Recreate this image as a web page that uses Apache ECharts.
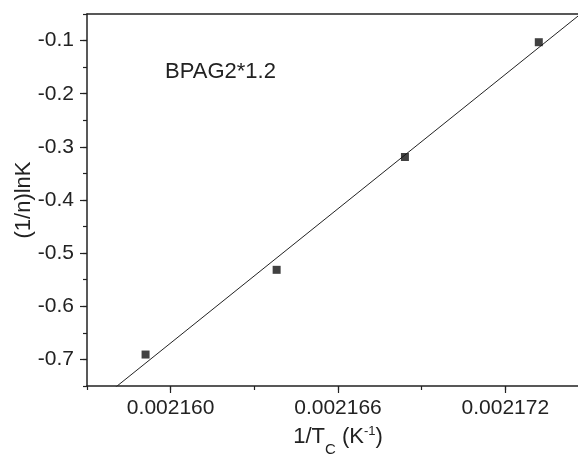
<!DOCTYPE html>
<html><head><meta charset="utf-8">
<script src="https://cdn.jsdelivr.net/npm/echarts@6/dist/echarts.min.js"></script>
<style>html,body{margin:0;padding:0;background:#fff}#c{width:578px;height:457px}</style>
</head><body><div id="c"></div>
<script>
// ---- data ----
const xValues = [0.0021591, 0.0021638, 0.0021684, 0.0021732];
const yValues = [-0.6908, -0.5314, -0.3191, -0.1031];
const xTickLabels = ['0.002160', '0.002166', '0.002172'];
const yTickLabels = ['-0.7', '-0.6', '-0.5', '-0.4', '-0.3', '-0.2', '-0.1'];
const seriesLabel = 'BPAG2*1.2';
const xAxisTitle = '1/T{sub|C} (K{sup|-1})';
const yAxisTitle = '(1/n)lnK';

// ---- axis ranges ----
const xMin = 0.002157, xMax = 0.002175, xMinorStep = 0.000003;
const xMajorMin = 0.002160, xMajorStep = 0.000006;
const yMin = -0.75, yMax = -0.05, yMinorStep = 0.05;
const yMajorMin = -0.7, yMajorMax = -0.1, yMajorStep = 0.1;

// ---- linear fit from the data ----
const n = xValues.length;
const mx = xValues.reduce((a, b) => a + b, 0) / n;
const my = yValues.reduce((a, b) => a + b, 0) / n;
let sxy = 0, sxx = 0;
for (let i = 0; i < n; i++) { sxy += (xValues[i] - mx) * (yValues[i] - my); sxx += (xValues[i] - mx) ** 2; }
const slope = sxy / sxx, icpt = my - slope * mx;
const fitLine = [[xMin, icpt + slope * xMin], [xMax, icpt + slope * xMax]];
const points = xValues.map((x, i) => [x, yValues[i]]);

// ---- layout ----
const W = 578, H = 457;
const gL = 87, gT = 14, plotW = 502, plotH = 372;
const xPix = v => gL + (v - xMin) / (xMax - xMin) * plotW;
const yPix = v => gT + (yMax - v) / (yMax - yMin) * plotH;

const ink = '#222';
const font = 'Liberation Sans, Arial, Helvetica, sans-serif';

const chart = echarts.init(document.getElementById('c'), null, { renderer: 'canvas' });
chart.setOption({
  animation: false,
  backgroundColor: '#fff',
  title: {
    text: seriesLabel, left: 160, top: 56,
    textStyle: { fontSize: 22, fontWeight: 'normal', color: ink, fontFamily: font }
  },
  grid: [
    { left: gL, top: gT, width: plotW, height: plotH, outerBoundsMode: 'none', containLabel: false },
    { left: xPix(xMajorMin), top: gT, width: xPix(xMax) - xPix(xMajorMin), height: plotH,
      outerBoundsMode: 'none', containLabel: false },
    { left: gL, top: yPix(yMajorMax), width: plotW, height: yPix(yMajorMin) - yPix(yMajorMax),
      outerBoundsMode: 'none', containLabel: false }
  ],
  xAxis: [
    {
      gridIndex: 0, type: 'value', min: xMin, max: xMax, interval: xMinorStep,
      axisLine: { lineStyle: { color: ink, width: 1.5 } },
      axisTick: { length: 4, lineStyle: { color: ink, width: 1.2 } },
      axisLabel: { show: false }, splitLine: { show: false },
      name: xAxisTitle, nameLocation: 'middle', nameGap: 39,
      nameTextStyle: {
        fontSize: 22, color: ink, fontFamily: font, lineHeight: 24,
        rich: {
          sub: { fontSize: 15, color: ink, fontFamily: font, lineHeight: 15, padding: [17, 0, 0, 0], verticalAlign: 'top' },
          sup: { fontSize: 13, color: ink, fontFamily: font, lineHeight: 13, padding: [0, 0, 10, 0], verticalAlign: 'top' }
        }
      }
    },
    {
      gridIndex: 1, type: 'value', min: xMajorMin, max: xMax, interval: xMajorStep,
      axisLine: { show: false },
      axisTick: { length: 7, lineStyle: { color: ink, width: 1.2 } },
      axisLabel: {
        margin: 12, fontSize: 21, color: ink, fontFamily: font,
        formatter: (v, i) => (i < xTickLabels.length ? xTickLabels[i] : '')
      },
      splitLine: { show: false }
    },
    { gridIndex: 2, type: 'value', min: xMin, max: xMax, show: false },
    {
      gridIndex: 0, type: 'value', position: 'top', min: xMin, max: xMax,
      axisLine: { show: true, lineStyle: { color: ink, width: 1.5 } },
      axisTick: { show: false }, axisLabel: { show: false }, splitLine: { show: false }
    }
  ],
  yAxis: [
    {
      gridIndex: 0, type: 'value', min: yMin, max: yMax, interval: yMinorStep,
      axisLine: { lineStyle: { color: ink, width: 1.5 } },
      axisTick: { length: 4, lineStyle: { color: ink, width: 1.2 } },
      axisLabel: { show: false }, splitLine: { show: false },
      name: yAxisTitle, nameLocation: 'middle', nameRotate: 90, nameGap: 52,
      nameTextStyle: { fontSize: 22, color: ink, fontFamily: font }
    },
    { gridIndex: 1, type: 'value', min: yMin, max: yMax, show: false },
    {
      gridIndex: 2, type: 'value', min: yMajorMin, max: yMajorMax, interval: yMajorStep,
      axisLine: { show: false },
      axisTick: { length: 7, lineStyle: { color: ink, width: 1.2 } },
      axisLabel: {
        margin: 13, fontSize: 21, color: ink, fontFamily: font,
        formatter: (v, i) => (i < yTickLabels.length ? yTickLabels[i] : '')
      },
      splitLine: { show: false }
    }
  ],
  series: [
    {
      type: 'line', xAxisIndex: 0, yAxisIndex: 0, data: fitLine, symbol: 'none', clip: true,
      lineStyle: { color: ink, width: 1 }, z: 2
    },
    {
      type: 'scatter', xAxisIndex: 0, yAxisIndex: 0, data: points, symbol: 'rect', symbolSize: 8,
      itemStyle: { color: '#111' }, z: 3
    }
  ]
});
</script>
</body></html>
